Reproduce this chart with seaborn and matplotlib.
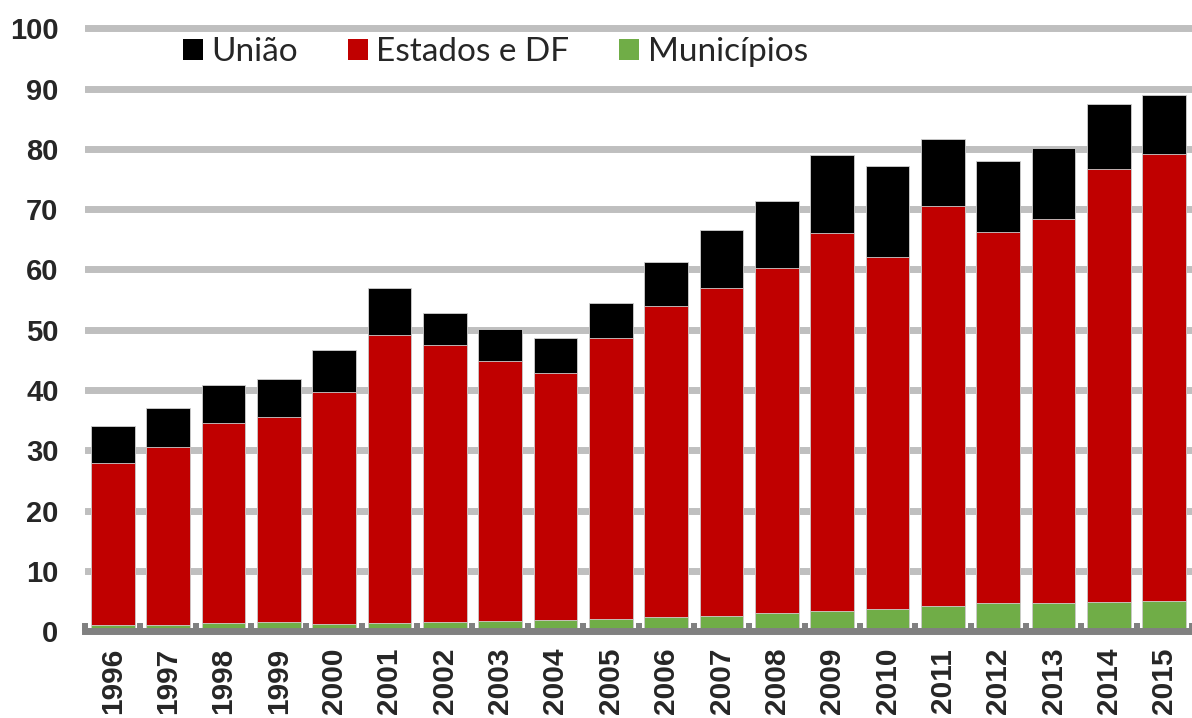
import numpy as np
import pandas as pd
import seaborn as sns
import matplotlib
matplotlib.use('Agg')
import matplotlib.pyplot as plt
from matplotlib.patches import Patch

# values (R$ bilhoes, approx.)
years = [str(y) for y in range(1996, 2016)]
uniao = [6.1, 6.5, 6.4, 6.3, 6.9, 7.8, 5.3, 5.3, 5.7, 5.9,
         7.3, 9.6, 11.2, 12.9, 15.0, 11.0, 11.8, 11.7, 10.8, 9.8]
estados = [26.8, 29.4, 33.1, 34.0, 38.5, 47.7, 45.9, 43.1, 41.0, 46.6,
           51.6, 54.3, 57.2, 62.7, 58.4, 66.4, 61.5, 63.7, 71.7, 74.2]
municipios = [1.1, 1.1, 1.4, 1.5, 1.2, 1.4, 1.5, 1.7, 1.9, 2.0,
              2.3, 2.6, 3.0, 3.3, 3.7, 4.2, 4.7, 4.7, 4.9, 5.0]
series_names = ['União', 'Estados e DF', 'Municípios']
colors = ['#000000', '#C00000', '#70AD47']

df = pd.DataFrame({'ano': years, 'uniao': uniao, 'estados': estados, 'municipios': municipios})
# stacked bars: draw cumulative heights on top of each other
df['cum_mun'] = df['municipios']
df['cum_est'] = df['cum_mun'] + df['estados']
df['cum_tot'] = df['cum_est'] + df['uniao']

sns.set_theme(style='white')
plt.rcParams['font.family'] = ['Liberation Sans', 'DejaVu Sans']

fig = plt.figure(figsize=(11.92, 7.18), dpi=100)
ax = fig.add_axes([85 / 1192, 86.8 / 718, 1107 / 1192, 609 / 718])

bw = 0.79
for col, c in zip(['cum_tot', 'cum_est', 'cum_mun'], colors):
    sns.barplot(data=df, x='ano', y=col, color=c, width=bw, saturation=1,
                edgecolor='#d0d0d0', linewidth=0.6, ax=ax, zorder=2)

ax.set_ylim(0, 101)
ax.set_xlim(-0.5, 19 + bw / 2)
ax.set_yticks(range(0, 101, 10))
ax.yaxis.grid(True, color='#BFBFBF', linewidth=5)
ax.xaxis.grid(False)
ax.set_axisbelow(True)
ax.set_xlabel('')
ax.set_ylabel('')

for s in ['top', 'right', 'left']:
    ax.spines[s].set_visible(False)
ax.spines['bottom'].set_color('#808080')
ax.spines['bottom'].set_linewidth(5)
ax.spines['bottom'].set_zorder(3)

ax.set_xticks(np.arange(-0.5, 20, 1), minor=True)
ax.tick_params(axis='x', which='minor', direction='in', length=6, width=4.3,
               color='#808080', bottom=True)
ax.tick_params(axis='x', which='major', length=0, pad=12, labelsize=21.5,
               labelrotation=90)
ax.tick_params(axis='y', length=0, pad=19, labelsize=21)
for lab in ax.get_xticklabels() + ax.get_yticklabels():
    lab.set_fontweight('bold')

handles = [Patch(facecolor=c, edgecolor='none') for c in colors]
fig.legend(handles, series_names, loc='center left',
           bbox_to_anchor=(183 / 1192, 1 - 52 / 718), ncol=3, frameon=False,
           prop={'family': 'Lato', 'size': 24}, handlelength=0.6,
           handleheight=0.6, handletextpad=0.25, columnspacing=1.5,
           borderpad=0, borderaxespad=0)

fig.savefig('out.png', dpi=100)
